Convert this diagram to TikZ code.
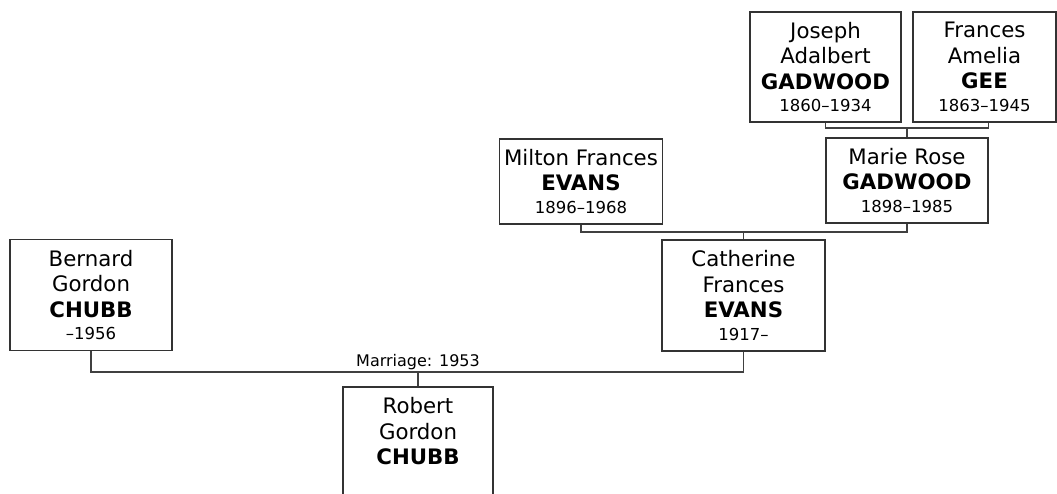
\documentclass[tikz,border=0pt]{standalone}
\usepackage{fontspec}
\setmainfont{DejaVu Sans}
\usetikzlibrary{positioning}
\newcommand{\yrs}[1]{{\fontsize{16.5}{19}\selectfont #1}}
\newcommand{\sur}[1]{{\fontsize{21.3}{25.5}\selectfont\bfseries #1}}
\begin{document}
\begin{tikzpicture}[x=1pt,y=-1pt,
  person/.style={draw=black!80,line width=1.3pt,align=center,inner sep=0pt,
    font=\fontsize{21.3}{25.5}\selectfont},
  link/.style={draw=black!75,line width=1.3pt}]
\useasboundingbox (0,0) rectangle (1057,493);
\node[person,minimum width=151,minimum height=110] (joseph) at (825.5,67) {Joseph\\Adalbert\\\sur{GADWOOD}\\[-3pt]\yrs{1860–1934}};
\node[person,minimum width=143,minimum height=110] (frances) at (984.5,67) {Frances\\Amelia\\\sur{GEE}\\[-3pt]\yrs{1863–1945}};
\node[person,minimum width=162,minimum height=85] (marie) at (907,180.5) {Marie Rose\\\sur{GADWOOD}\\[-3pt]\yrs{1898–1985}};
\node[person,minimum width=163,minimum height=85] (milton) at (581,181.5) {Milton Frances\\\sur{EVANS}\\[-3pt]\yrs{1896–1968}};
\node[person,minimum width=163,minimum height=111] (catherine) at (743.5,295.5) {Catherine\\Frances\\\sur{EVANS}\\[-3pt]\yrs{1917–}};
\node[person,minimum width=162,minimum height=111] (bernard) at (91,295) {Bernard\\Gordon\\\sur{CHUBB}\\[-3pt]\yrs{–1956}};
\node[person,minimum width=150,minimum height=111] (robert) at (418,442.5) {Robert\\Gordon\\\sur{CHUBB}\\[-3pt]\yrs{\phantom{1}}};
\coordinate (up) at (0,128);
\coordinate (mid) at (0,232);
\coordinate (low) at (0,372);
\draw[link] (joseph.south) -- (joseph.south |- up) -- (marie.east |- up) -- (marie.east |- frances.south);
\draw[link] (marie.north) -- (marie.north |- up);
\draw[link] (milton.south) -- (milton.south |- mid) -- (marie.south |- mid) -- (marie.south);
\draw[link] (catherine.north) -- (catherine.north |- mid);
\draw[link] (bernard.south) -- (bernard.south |- low) -- (catherine.south |- low) -- (catherine.south);
\draw[link] (robert.north) -- (robert.north |- low) coordinate (wed);
\node[above=1.5pt of wed,inner sep=0pt,font=\fontsize{16}{18}\selectfont] (marriage) {Marriage: 1953};
\end{tikzpicture}
\end{document}
